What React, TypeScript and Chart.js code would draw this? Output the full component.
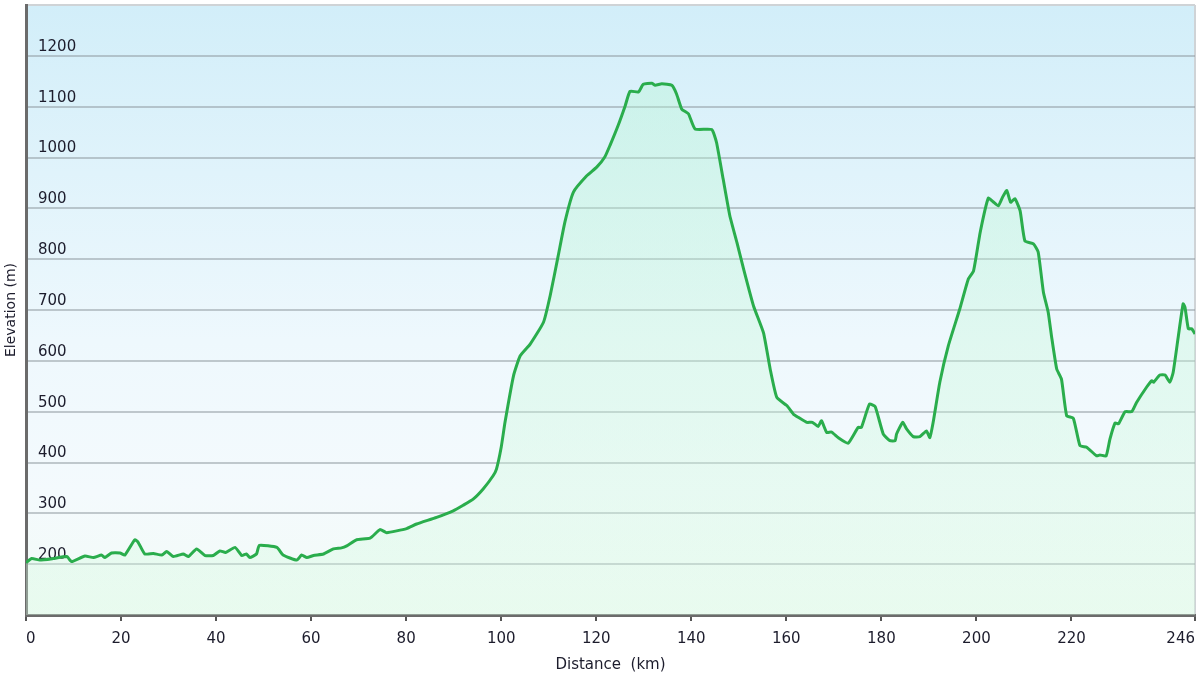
import React, { useEffect, useRef } from "react";
import { Chart, registerables } from "chart.js";

Chart.register(...registerables);

const distanceKm: number[] = [
  0.0, 1.2, 2.9, 5.7, 8.6, 9.6, 12.4, 14.2, 15.9, 16.6, 18.0, 19.8, 20.8, 22.9, 23.6, 25.0,
  26.8, 28.6, 29.6, 31.0, 33.1, 34.2, 35.9, 37.7, 39.4, 40.8, 42.0, 44.0, 45.4, 46.4, 47.1,
  48.5, 49.1, 52.8, 54.1, 57.0, 58.0, 59.1, 60.5, 62.6, 64.7, 66.4, 67.5, 69.6, 72.4, 74.5,
  75.9, 80.1, 82.2, 86.4, 89.9, 92.0, 94.1, 96.2, 98.3, 99.0, 100.0, 100.8, 102.6, 104.0,
  106.1, 108.9, 110.3, 112.0, 113.4, 115.2, 118.0, 120.1, 121.8, 122.9, 124.6, 126.1, 127.1,
  128.9, 129.9, 131.7, 132.4, 133.8, 135.9, 136.9, 138.0, 139.4, 140.8, 144.3, 145.3, 146.7,
  148.1, 149.6, 151.0, 153.1, 155.2, 156.6, 158.0, 160.1, 161.5, 162.5, 164.3, 165.5, 166.7,
  167.4, 168.5, 169.5, 170.9, 173.0, 175.1, 175.8, 177.5, 178.7, 180.4, 181.8, 182.9, 183.2,
  184.5, 185.3, 186.7, 188.1, 189.5, 190.2, 190.9, 192.3, 194.1, 196.5, 198.3, 199.4, 200.8,
  202.5, 203.5, 204.6, 205.5, 206.4, 207.2, 208.1, 209.2, 210.2, 212.0, 213.0, 214.1, 215.1,
  215.8, 216.9, 217.9, 219.0, 220.4, 221.8, 223.2, 225.3, 226.0, 227.3, 228.1, 229.2, 229.9,
  231.3, 232.7, 233.7, 235.8, 236.9, 237.3, 238.6, 239.7, 240.7, 241.4, 242.5, 243.5, 243.9,
  244.6, 245.3, 246.0,
];

const elevationM: number[] = [
  203, 211, 208, 211, 215, 205, 216, 213, 218, 213, 222, 222, 218, 248, 243, 220,
  221, 218, 225, 215, 220, 215, 230, 217, 217, 226, 223, 233, 217, 220, 213,
  220, 237, 233, 218, 208, 218, 213, 217, 220, 230, 232, 236, 248, 251, 268,
  262, 270, 279, 292, 305, 316, 328, 348, 374, 387, 430, 479, 571, 610,
  633, 676, 728, 807, 873, 932, 964, 981, 1001, 1024, 1063, 1102, 1130,
  1129, 1144, 1146, 1142, 1145, 1142, 1125, 1095, 1086, 1056, 1055, 1030, 958,
  886, 833, 781, 708, 655, 584, 528, 512, 495, 489, 479, 479, 471,
  482, 459, 460, 449, 438, 469, 469, 515, 510, 456, 443, 443, 456,
  479, 466, 451, 451, 462, 449, 479, 558, 630, 702, 761, 777, 853,
  920, 913, 905, 922, 935, 912, 919, 895, 836, 830, 814, 735, 696,
  649, 584, 564, 492, 487, 433, 430, 413, 415, 413, 446, 478, 476,
  500, 500, 518, 548, 561, 558, 572, 572, 558, 577, 649, 712, 705,
  663, 663, 653,
];

const xTickValues: number[] = [0, 20, 40, 60, 80, 100, 120, 140, 160, 180, 200, 220, 246];
const yTickLabels: number[] = [200, 300, 400, 500, 600, 700, 800, 900, 1000, 1100, 1200];

const FONT = "'DejaVu Sans', Verdana, sans-serif";

const backgroundPlugin = {
  id: "plotBackground",
  beforeDraw(chart: any) {
    const { ctx, chartArea } = chart;
    if (!chartArea) return;
    const { left, top, right, bottom } = chartArea;
    const g = ctx.createLinearGradient(0, top, 0, bottom);
    g.addColorStop(0, "#d2eef9");
    g.addColorStop(0.55, "#eef8fd");
    g.addColorStop(0.8, "#f4fafd");
    g.addColorStop(1, "#f2fbf6");
    ctx.save();
    ctx.fillStyle = g;
    ctx.fillRect(left, top, right - left, bottom - top);
    ctx.restore();
  },
};

export default function App() {
  const canvasRef = useRef<HTMLCanvasElement | null>(null);

  useEffect(() => {
    document.body.style.margin = "0";
    const canvas = canvasRef.current;
    if (!canvas) return;
    const points = distanceKm.map((d, i) => ({ x: d, y: elevationM[i] }));
    const chart = new Chart(canvas, {
      type: "line",
      data: {
        datasets: [
          {
            data: points,
            borderColor: "#2aad4c",
            borderWidth: 3,
            pointRadius: 0,
            tension: 0.15,
            fill: "start",
            backgroundColor: (c: any) => {
              const area = c.chart.chartArea;
              if (!area) return "rgba(160,235,195,0.25)";
              const g = c.chart.ctx.createLinearGradient(0, area.top, 0, area.bottom);
              g.addColorStop(0, "rgba(175,245,205,0.35)");
              g.addColorStop(1, "rgba(215,250,225,0.35)");
              return g;
            },
          },
        ],
      },
      options: {
        responsive: false,
        animation: false,
        layout: { padding: { top: 5, right: 5, left: 0, bottom: 0 } },
        plugins: { legend: { display: false }, tooltip: { enabled: false } },
        scales: {
          x: {
            type: "linear",
            min: 0,
            max: 246,
            afterFit: (s: any) => {
              s.height = 60;
              s.paddingLeft = 0;
              s.paddingRight = 0;
            },
            afterBuildTicks: (s: any) => {
              s.ticks = xTickValues.map((v) => ({ value: v }));
            },
            border: { color: "#6b6b6b", width: 3 },
            grid: {
              drawOnChartArea: true,
              drawTicks: true,
              tickLength: 6,
              tickWidth: 2,
              tickColor: "#555",
              lineWidth: 2,
              color: (c: any) =>
                c.tick && c.tick.value === 246 ? "#cfd3d6" : "rgba(0,0,0,0)",
            },
            ticks: {
              align: "inner",
              maxRotation: 0,
              autoSkip: false,
              padding: 9,
              color: "#1c1c2c",
              font: { family: FONT, size: 15 },
            },
            title: {
              display: true,
              text: "Distance  (km)",
              color: "#1c1c2c",
              font: { family: FONT, size: 15 },
              padding: { top: 0, bottom: 1 },
            },
          },
          y: {
            min: 100,
            max: 1300,
            afterFit: (s: any) => {
              s.width = 26;
              s.paddingTop = 0;
              s.paddingBottom = 0;
            },
            border: { color: "#6b6b6b", width: 3 },
            grid: {
              drawTicks: false,
              lineWidth: 2,
              color: (c: any) => {
                const v = c.tick ? c.tick.value : 0;
                if (v === 100) return "rgba(0,0,0,0)";
                if (v === 1300) return "#cfd3d6";
                return "rgba(140,150,155,0.5)";
              },
            },
            ticks: {
              stepSize: 100,
              mirror: true,
              padding: 12,
              labelOffset: -9,
              color: "#1c1c2c",
              font: { family: FONT, size: 15 },
              callback: (v: any) => (yTickLabels.includes(Number(v)) ? String(v) : ""),
            },
            title: {
              display: true,
              text: "Elevation (m)",
              color: "#1c1c2c",
              font: { family: FONT, size: 14 },
              padding: { top: 3, bottom: 0 },
            },
          },
        },
      } as any,
      plugins: [backgroundPlugin],
    });
    return () => chart.destroy();
  }, []);

  return (
    <div style={{ width: 1200, height: 675, background: "#ffffff" }}>
      <canvas ref={canvasRef} width={1200} height={675} />
    </div>
  );
}
